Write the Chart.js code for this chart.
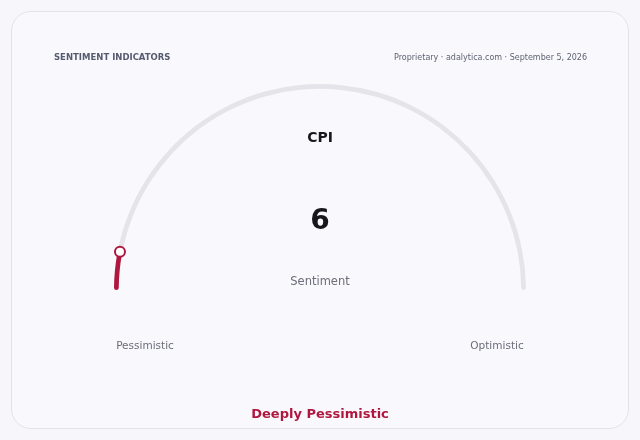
<!DOCTYPE html>
<html>
<head>
<meta charset="utf-8">
<script src="https://cdn.jsdelivr.net/npm/chart.js@4.4.1/dist/chart.umd.min.js"></script>
<style>
    html, body { margin: 0; padding: 0; background: #f7f7fb; }
    .card {
        position: absolute; left: 11px; top: 11px; width: 616px; height: 416px;
        border: 1px solid #e2e2ea; border-radius: 20px; background: #f9f9fd;
    }
    #wrap { position: absolute; left: 0; top: 0; width: 640px; height: 440px; }
</style>
</head>
<body>
<div class="card"></div>
<div id="wrap"><canvas id="gauge"></canvas></div>
<script>
// Datos del indicador
const etiquetas = ["CPI", "Resto"];
const valores = [6, 94];
const valorMin = 0;
const valorMax = 100;
const titulo = "SENTIMENT INDICATORS";
const fuente = "Proprietary · adalytica.com · September 5, 2026";
const nombreIndicador = "CPI";
const subtitulo = "Sentiment";
const extremos = ["Pessimistic", "Optimistic"];
const lectura = "Deeply Pessimistic";

const ROJO = "#b0173f";
const GRIS = "#e4e4ea";
const FUENTE = "'DejaVu Sans', sans-serif";

// Textos y perilla dibujados sobre el gráfico
const textosGauge = {
    id: "textosGauge",
    afterDraw(chart) {
        const ctx = chart.ctx;
        const arco = chart.getDatasetMeta(0).data[0];
        const cx = arco.x, cy = arco.y;
        const rMedio = (arco.outerRadius + arco.innerRadius) / 2;

        // perilla al final del valor
        const ang = arco.endAngle;
        ctx.save();
        ctx.beginPath();
        ctx.arc(cx + Math.cos(ang) * rMedio, cy + Math.sin(ang) * rMedio, 5, 0, Math.PI * 2);
        ctx.fillStyle = "#ffffff";
        ctx.fill();
        ctx.lineWidth = 2;
        ctx.strokeStyle = ROJO;
        ctx.stroke();

        ctx.textBaseline = "middle";
        ctx.textAlign = "left";
        ctx.fillStyle = "#555a6e";
        ctx.font = "bold 8.5px " + FUENTE;
        ctx.fillText(titulo, 54, 58);

        ctx.textAlign = "right";
        ctx.fillStyle = "#5f6272";
        ctx.font = "8px " + FUENTE;
        ctx.fillText(fuente, 587, 58);

        ctx.textAlign = "center";
        ctx.fillStyle = "#16161c";
        ctx.font = "bold 14px " + FUENTE;
        ctx.fillText(nombreIndicador, cx, 138);

        ctx.font = "bold 28px " + FUENTE;
        ctx.fillText(String(valores[0]), cx, 222);

        ctx.fillStyle = "#6b6d78";
        ctx.font = "11.5px " + FUENTE;
        ctx.fillText(subtitulo, cx, 282);

        ctx.font = "10.5px " + FUENTE;
        ctx.fillText(extremos[0], 145, 346);
        ctx.fillText(extremos[1], 497, 346);

        ctx.fillStyle = ROJO;
        ctx.font = "bold 13px " + FUENTE;
        ctx.fillText(lectura, cx, 415);
        ctx.restore();
    }
};

new Chart(document.getElementById("gauge"), {
    type: "doughnut",
    data: {
        labels: etiquetas,
        datasets: [{
            data: valores,
            backgroundColor: [ROJO, GRIS],
            borderWidth: 0,
            borderRadius: 3
        }]
    },
    options: {
        responsive: true,
        maintainAspectRatio: false,
        animation: false,
        rotation: -90,
        circumference: 180,
        cutout: "97.7%",
        layout: { padding: { left: 114, right: 114, top: 84, bottom: 150 } },
        plugins: {
            legend: { display: false },
            tooltip: { enabled: false }
        }
    },
    plugins: [textosGauge]
});
</script>
</body>
</html>
